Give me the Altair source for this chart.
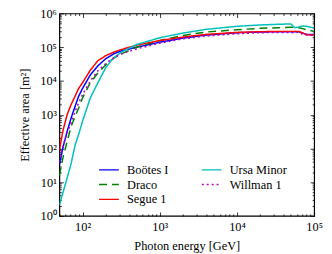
import altair as alt
import pandas as pd

energy_gev = [50, 56, 63, 71, 80, 89, 100, 126, 158, 200, 251, 316, 500, 1000, 2000,
              4000, 10000, 20000, 35000, 50000, 56000, 63000, 71000, 80000, 100000]

bootes_i = [32, 112, 316, 794, 1780, 3550, 6030, 15100, 28200, 45700, 63100, 77600,
            1.0e5, 1.41e5, 1.86e5, 2.29e5, 2.69e5, 2.82e5, 2.88e5, 2.88e5, 2.88e5,
            2.88e5, 2.63e5, 2.4e5, 2.4e5]
draco = [15.8, 56.2, 158, 447, 891, 1580, 3160, 8910, 17400, 30200, 46800, 63100,
         1.0e5, 1.58e5, 2.24e5, 2.82e5, 3.31e5, 3.63e5, 3.8e5, 3.89e5, 3.89e5,
         3.8e5, 3.55e5, 3.31e5, 2.95e5]
segue_1 = [89, 355, 1000, 2000, 3550, 6030, 8910, 20900, 39800, 56200, 70800, 85100,
           1.15e5, 1.58e5, 2.0e5, 2.4e5, 2.75e5, 2.88e5, 2.95e5, 2.95e5, 2.95e5,
           2.95e5, 2.63e5, 2.34e5, 2.29e5]
ursa_minor = [2.09, 5.13, 13.2, 35.5, 126, 263, 646, 3160, 8910, 25100, 47900, 70800,
              1.2e5, 1.91e5, 2.63e5, 3.39e5, 4.17e5, 4.57e5, 4.79e5, 4.9e5, 3.8e5,
              3.98e5, 4.27e5, 4.17e5, 3.72e5]
willman_1 = [39.8, 126, 282, 562, 1260, 2240, 3980, 10000, 20000, 33100, 47900, 63100,
             89100, 1.32e5, 1.78e5, 2.14e5, 2.51e5, 2.69e5, 2.75e5, 2.75e5, 2.63e5,
             2.82e5, 2.4e5, 2.29e5, 2.24e5]

names = ["Boötes I", "Draco", "Segue 1", "Ursa Minor", "Willman 1"]
series = [bootes_i, draco, segue_1, ursa_minor, willman_1]
colors = ["#0000ff", "#008000", "#ff0000", "#00bfbf", "#bf00bf"]
dashes = [[1, 0], [8, 5], [1, 0], [1, 0], [2, 3]]

x_ticks = [m * 10 ** d for d in range(1, 5) for m in range(1, 10) if m * 10 ** d >= 50] + [100000]
y_ticks = [m * 10 ** d for d in range(0, 6) for m in range(1, 10)] + [1000000]

rows = []
for n, vals in zip(names, series):
    for e, v in zip(energy_gev, vals):
        rows.append({"energy": e, "area": v, "name": n})
df = pd.DataFrame(rows)

FONT = "Liberation Serif"
dec = "abs(log(datum.value)/LN10 - round(log(datum.value)/LN10)) < 0.001"
lab = dec + " ? '10' + ['⁰','¹','²','³','⁴','⁵','⁶'][round(log(datum.value)/LN10)] : ''"
tsz = {"expr": dec + " ? -4 : -2"}

xs = alt.Scale(type="log", domain=[50, 100000], nice=False)
ys = alt.Scale(type="log", domain=[1, 1000000], nice=False)

main = alt.Chart(df).mark_line(strokeWidth=1.5, clip=True).encode(
    x=alt.X("energy:Q", scale=xs, axis=alt.Axis(
        values=x_ticks, labelExpr=lab, tickSize=tsz, title="Photon energy [GeV]",
        domain=False, grid=False, labelPadding=9, titlePadding=5,
        labelFlush=False, labelOverlap=False)),
    y=alt.Y("area:Q", scale=ys, axis=alt.Axis(
        values=y_ticks, labelExpr=lab, tickSize=tsz, title="Effective area [m²]",
        domain=False, grid=False, labelPadding=7, titlePadding=8,
        labelFlush=False, labelOverlap=False)),
    color=alt.Color("name:N", scale=alt.Scale(domain=names, range=colors),
                    legend=alt.Legend(title=None, orient="none", legendX=44, legendY=152,
                                      columns=2, columnPadding=30, rowPadding=2,
                                      symbolType="M-2,0L2,0", symbolSize=100,
                                      symbolStrokeWidth=1.5, labelOffset=12,
                                      labelFont=FONT, labelFontSize=12.5)),
    strokeDash=alt.StrokeDash("name:N", scale=alt.Scale(domain=names, range=dashes),
                              legend=None),
    detail="name:N",
)

mirror = alt.Chart(df).mark_line(opacity=0).encode(
    x=alt.X("energy:Q", scale=xs, axis=alt.Axis(
        orient="top", values=x_ticks, labels=False, tickSize=tsz, title=None,
        domain=False, grid=False)),
    y=alt.Y("area:Q", scale=ys, axis=alt.Axis(
        orient="right", values=y_ticks, labels=False, tickSize=tsz, title=None,
        domain=False, grid=False)),
)

chart = alt.layer(main, mirror).resolve_axis(x="independent", y="independent").properties(
    width=258, height=205,
    autosize=alt.AutoSizeParams(type="none"),
    padding={"left": 52, "top": 4, "right": 10, "bottom": 36},
).configure_view(stroke="black", strokeWidth=1.2).configure_axis(
    labelFont=FONT, titleFont=FONT, labelFontSize=12.5, titleFontSize=12.5,
    titleFontWeight="normal", tickColor="black", tickWidth=0.8, labelColor="black",
    titleColor="black",
).configure_legend(labelColor="black")

chart.save("out.html", embed_options={"renderer": "svg", "actions": False})
